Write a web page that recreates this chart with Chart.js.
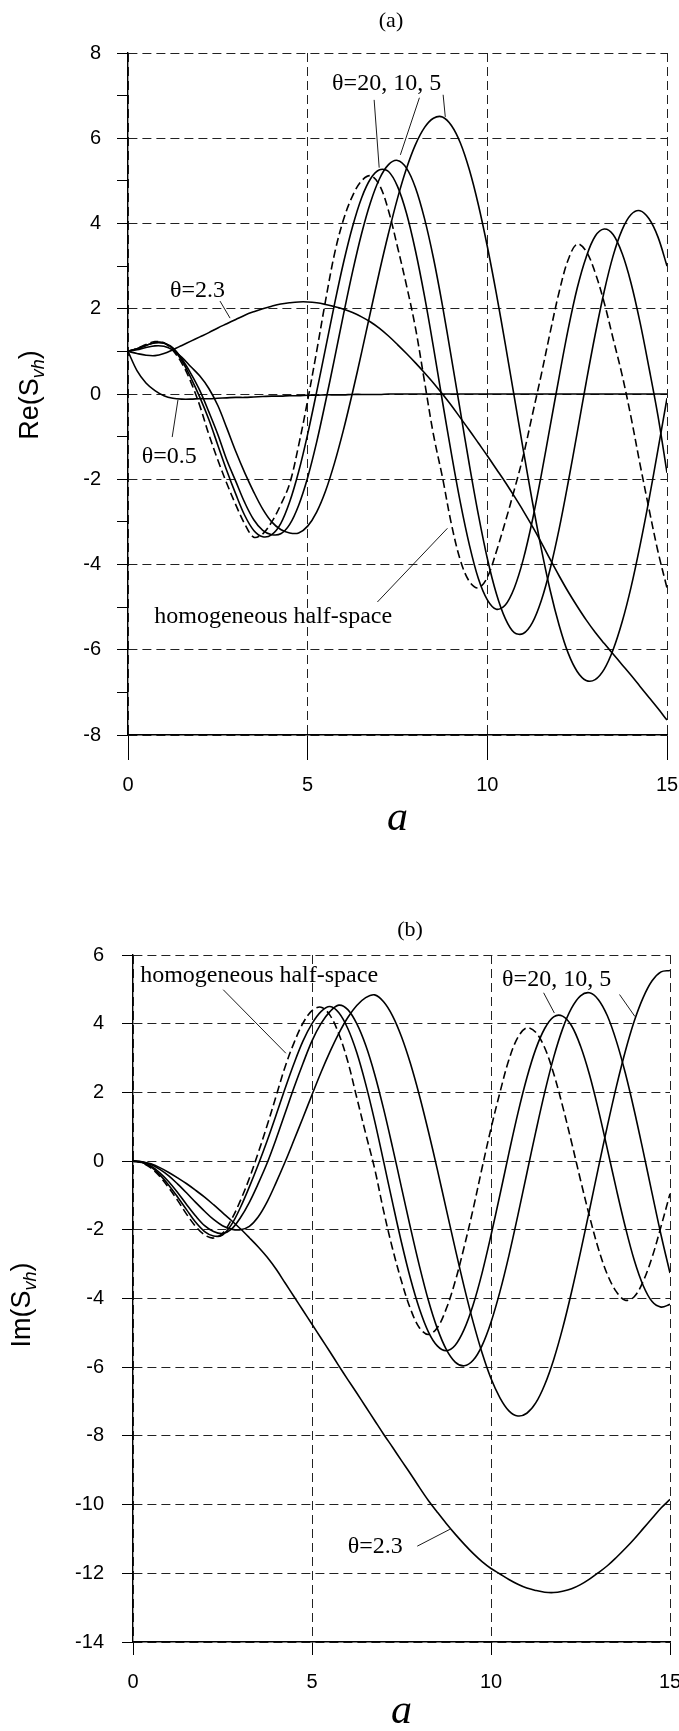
<!DOCTYPE html>
<html>
<head>
<meta charset="utf-8">
<script src="https://cdn.jsdelivr.net/npm/chart.js@4"></script>
<style>
html, body { margin: 0; padding: 0; background: #fff; }
#wrap { position: relative; width: 679px; height: 1731px; }
canvas { position: absolute; left: 0; }
</style>
</head>
<body>
<div id="wrap">
  <canvas id="reChart" width="679" height="860" style="top:0"></canvas>
  <canvas id="imChart" width="679" height="871" style="top:860px"></canvas>
</div>
<script>
// dimensionless frequency a
const aValues = [0,0.25,0.5,0.75,1,1.25,1.5,1.75,2,2.25,2.5,2.75,3,3.25,3.5,3.75,4,4.25,4.5,4.75,
  5,5.25,5.5,5.75,6,6.25,6.5,6.75,7,7.25,7.5,7.75,8,8.25,8.5,8.75,9,9.25,9.5,9.75,
  10,10.25,10.5,10.75,11,11.25,11.5,11.75,12,12.25,12.5,12.75,13,13.25,13.5,13.75,14,14.25,14.5,14.75,15];

// (a) Re(Svh)
const reHomog = [1.00,1.07,1.16,1.23,1.20,1.02,0.72,0.28,-0.28,-0.95,
  -1.55,-2.10,-2.60,-3.05,-3.36,-3.28,-3.00,-2.60,-2.10,-1.20,
  -0.15,1.00,2.20,3.30,4.10,4.65,5.00,5.12,4.90,4.30,
  3.45,2.55,1.55,0.30,-0.95,-1.95,-3.05,-3.90,-4.40,-4.55,
  -4.30,-3.70,-3.00,-2.25,-1.45,-0.50,0.45,1.45,2.40,3.15,
  3.52,3.35,2.85,2.15,1.30,0.45,-0.55,-1.65,-2.70,-3.70,-4.55];
const reTheta20 = [1.00,1.06,1.14,1.21,1.20,1.06,0.78,0.38,-0.08,-0.60,
  -1.20,-1.80,-2.35,-2.85,-3.20,-3.35,-3.30,-3.04,-2.53,-1.82,
  -0.94,0.05,1.08,2.12,3.09,3.93,4.60,5.05,5.26,5.22,
  4.87,4.24,3.36,2.30,1.10,-0.17,-1.40,-2.55,-3.54,-4.33,
  -4.83,-5.05,-4.95,-4.55,-3.88,-2.98,-1.91,-0.75,0.41,1.52,
  2.48,3.21,3.70,3.87,3.74,3.30,2.60,1.68,0.61,-0.52,-1.85];
const reTheta10 = [1.00,1.06,1.14,1.20,1.19,1.08,0.82,0.48,0.08,-0.42,
  -0.95,-1.55,-2.05,-2.55,-2.95,-3.20,-3.30,-3.28,-3.06,-2.61,
  -1.96,-1.13,-0.17,0.84,1.88,2.87,3.76,4.50,5.05,5.38,
  5.48,5.30,4.84,4.12,3.19,2.08,0.85,-0.41,-1.66,-2.83,
  -3.86,-4.68,-5.27,-5.60,-5.62,-5.37,-4.85,-4.10,-3.16,-2.07,
  -0.91,0.27,1.39,2.40,3.24,3.85,4.21,4.30,4.11,3.68,3.00];
const reTheta5 = [1.00,1.04,1.09,1.13,1.12,1.03,0.86,0.64,0.42,0.13,
  -0.27,-0.80,-1.35,-1.85,-2.30,-2.70,-3.00,-3.18,-3.26,-3.26,
  -3.10,-2.77,-2.27,-1.61,-0.83,0.04,0.97,1.93,2.88,3.77,
  4.59,5.29,5.85,6.25,6.47,6.50,6.30,5.89,5.26,4.44,
  3.46,2.36,1.17,-0.07,-1.31,-2.51,-3.62,-4.61,-5.43,-6.08,
  -6.51,-6.72,-6.70,-6.46,-6.00,-5.35,-4.53,-3.55,-2.47,-1.30,-0.10];
const reTheta23 = [1.00,0.95,0.91,0.90,0.95,1.04,1.14,1.24,1.34,1.44,
  1.55,1.65,1.75,1.85,1.93,2.00,2.06,2.11,2.14,2.16,
  2.16,2.14,2.10,2.05,1.99,1.91,1.81,1.69,1.54,1.36,
  1.16,0.95,0.73,0.50,0.26,0.00,-0.27,-0.56,-0.85,-1.15,
  -1.45,-1.76,-2.07,-2.40,-2.74,-3.10,-3.48,-3.88,-4.27,-4.64,
  -4.98,-5.30,-5.59,-5.85,-6.10,-6.35,-6.60,-6.86,-7.12,-7.38,-7.65];
const reTheta05 = [1.00,0.55,0.26,0.08,-0.04,-0.10,-0.12,-0.12,-0.11,-0.11,
  -0.10,-0.09,-0.08,-0.08,-0.07,-0.06,-0.05,-0.05,-0.04,-0.04,
  -0.03,-0.03,-0.02,-0.02,-0.02,-0.01,-0.01,-0.01,-0.01,0,
  0,0,0,0,0,0,0,0,0,0,
  0,0,0,0,0,0,0,0,0,0,
  0,0,0,0,0,0,0,0,0,0,0];

// (b) Im(Svh)
const imHomog = [0,-0.05,-0.20,-0.45,-0.78,-1.15,-1.55,-1.90,-2.15,-2.24,
  -2.10,-1.70,-1.15,-0.50,0.25,1.05,1.90,2.75,3.45,4.02,
  4.38,4.48,4.25,3.70,2.90,1.85,0.80,-0.22,-1.45,-2.55,
  -3.50,-4.30,-4.85,-5.05,-4.85,-4.30,-3.50,-2.50,-1.40,-0.20,
  0.95,2.00,2.95,3.60,3.88,3.75,3.30,2.55,1.60,0.55,
  -0.55,-1.60,-2.55,-3.30,-3.80,-4.05,-3.95,-3.50,-2.80,-1.90,-0.95];
const imTheta20 = [0,-0.04,-0.17,-0.40,-0.70,-1.05,-1.42,-1.78,-2.05,-2.18,
  -2.15,-1.85,-1.35,-0.75,-0.10,0.60,1.35,2.12,2.85,3.50,
  4.00,4.35,4.50,4.32,3.86,3.16,2.24,1.17,-0.01,-1.21,
  -2.37,-3.42,-4.30,-4.97,-5.38,-5.52,-5.36,-4.90,-4.19,-3.26,
  -2.16,-0.98,0.23,1.39,2.42,3.26,3.86,4.20,4.22,3.94,
  3.35,2.52,1.49,0.35,-0.81,-1.91,-2.88,-3.62,-4.09,-4.25,-4.17];
const imTheta10 = [0,-0.03,-0.14,-0.34,-0.60,-0.92,-1.27,-1.60,-1.88,-2.05,
  -2.11,-1.98,-1.65,-1.20,-0.65,-0.05,0.65,1.40,2.15,2.85,
  3.50,4.00,4.35,4.54,4.41,4.00,3.37,2.53,1.52,0.40,
  -0.77,-1.94,-3.05,-4.05,-4.87,-5.48,-5.85,-5.96,-5.80,-5.37,
  -4.69,-3.80,-2.75,-1.58,-0.36,0.85,2.00,3.02,3.85,4.45,
  4.81,4.90,4.70,4.23,3.50,2.57,1.48,0.29,-0.94,-2.15,-3.26];
const imTheta5 = [0,-0.02,-0.10,-0.24,-0.43,-0.67,-0.93,-1.20,-1.46,-1.70,
  -1.88,-1.98,-2.00,-1.90,-1.62,-1.18,-0.62,-0.02,0.62,1.27,
  1.93,2.58,3.18,3.72,4.18,4.53,4.76,4.84,4.64,4.23,
  3.62,2.84,1.91,0.87,-0.24,-1.40,-2.55,-3.66,-4.68,-5.58,
  -6.33,-6.89,-7.27,-7.42,-7.34,-7.04,-6.51,-5.78,-4.87,-3.81,
  -2.65,-1.43,-0.19,1.02,2.16,3.19,4.07,4.76,5.25,5.51,5.55];
const imTheta23 = [0,-0.02,-0.08,-0.19,-0.33,-0.49,-0.66,-0.85,-1.05,-1.27,
  -1.50,-1.73,-1.97,-2.23,-2.50,-2.80,-3.15,-3.55,-3.95,-4.35,
  -4.75,-5.15,-5.55,-5.96,-6.36,-6.75,-7.15,-7.55,-7.95,-8.33,
  -8.72,-9.10,-9.50,-9.88,-10.22,-10.55,-10.86,-11.15,-11.42,-11.66,
  -11.86,-12.02,-12.18,-12.32,-12.43,-12.50,-12.55,-12.56,-12.52,-12.45,
  -12.33,-12.17,-11.98,-11.78,-11.54,-11.28,-11.00,-10.70,-10.40,-10.10,-9.85];

const xTicks = [0, 5, 10, 15];

const INK = '#000';
const GRID = '#222';
const SANS = '"Liberation Sans", Arial, sans-serif';
const SERIF = '"Liberation Serif", "Times New Roman", serif';

// texts and leader lines, in data units (a, value)
const extras = {
  reChart: {
    panel: '(a)', panelX: 391, panelY: 27,
    xTitleY: 830,
    yPrefix: 'Re', yTitleX: 38, yTitleY: 395,
    labels: [
      { text: 'θ=20, 10, 5', a: 5.68, v: 7.14 },
      { text: 'θ=2.3', a: 1.17, v: 2.28 },
      { text: 'θ=0.5', a: 0.38, v: -1.62 },
      { text: 'homogeneous half-space', a: 0.73, v: -5.37 }
    ],
    leaders: [
      [6.85, 6.9, 6.99, 5.31],
      [8.11, 6.95, 7.58, 5.61],
      [8.77, 7.02, 8.83, 6.5],
      [2.56, 2.18, 2.84, 1.78],
      [1.23, -1.01, 1.39, -0.14],
      [6.94, -4.88, 8.89, -3.15]
    ]
  },
  imChart: {
    panel: '(b)', panelX: 410, panelY: 76,
    xTitleY: 863,
    yPrefix: 'Im', yTitleX: 30, yTitleY: 445,
    labels: [
      { text: 'homogeneous half-space', a: 0.2, v: 5.2 },
      { text: 'θ=20, 10, 5', a: 10.31, v: 5.1 },
      { text: 'θ=2.3', a: 6.0, v: -11.41 }
    ],
    leaders: [
      [2.52, 4.99, 4.27, 3.14],
      [11.47, 4.9, 11.77, 4.31],
      [13.59, 4.85, 14.02, 4.21],
      [7.94, -11.21, 8.85, -10.72]
    ]
  }
};

function drawYTitle(ctx, prefix, x, cy) {
  const big = '27px ' + SANS;
  const small = 'italic 18px ' + SANS;
  ctx.save();
  ctx.translate(x, cy);
  ctx.rotate(-Math.PI / 2);
  ctx.textAlign = 'left';
  ctx.textBaseline = 'alphabetic';
  ctx.font = big;
  const w1 = ctx.measureText(prefix + '(S').width;
  const w3 = ctx.measureText(')').width;
  ctx.font = small;
  const w2 = ctx.measureText('vh').width;
  let px = -(w1 + w2 + w3) / 2;
  ctx.font = big;
  ctx.fillText(prefix + '(S', px, 0);
  px += w1;
  ctx.font = small;
  ctx.fillText('vh', px, 6);
  px += w2;
  ctx.font = big;
  ctx.fillText(')', px, 0);
  ctx.restore();
}

const figText = {
  id: 'figText',
  afterDraw(chart) {
    const cfg = extras[chart.canvas.id];
    const ctx = chart.ctx;
    const xs = chart.scales.x, ys = chart.scales.y;
    const area = chart.chartArea;
    ctx.save();
    ctx.fillStyle = INK;
    ctx.strokeStyle = INK;
    ctx.textBaseline = 'alphabetic';

    ctx.font = '22px ' + SERIF;
    ctx.textAlign = 'center';
    ctx.fillText(cfg.panel, cfg.panelX, cfg.panelY);

    ctx.font = 'italic 42px ' + SERIF;
    ctx.fillText('a', (area.left + area.right) / 2, cfg.xTitleY);

    drawYTitle(ctx, cfg.yPrefix, cfg.yTitleX, cfg.yTitleY);

    ctx.font = '24px ' + SERIF;
    ctx.textAlign = 'left';
    cfg.labels.forEach(l => {
      ctx.fillText(l.text, xs.getPixelForValue(l.a), ys.getPixelForValue(l.v));
    });

    ctx.lineWidth = 0.9;
    cfg.leaders.forEach(([a1, v1, a2, v2]) => {
      ctx.beginPath();
      ctx.moveTo(xs.getPixelForValue(a1), ys.getPixelForValue(v1));
      ctx.lineTo(xs.getPixelForValue(a2), ys.getPixelForValue(v2));
      ctx.stroke();
    });
    ctx.restore();
  }
};

function series(label, ys, dashed) {
  return {
    label: label,
    data: aValues.map((a, i) => ({ x: a, y: ys[i] })),
    borderColor: INK,
    borderWidth: 1.6,
    borderDash: dashed ? [8, 4] : [],
    pointRadius: 0,
    tension: 0.35,
    fill: false
  };
}

function makeChart(id, datasets, o) {
  return new Chart(document.getElementById(id), {
    type: 'line',
    data: { datasets: datasets },
    options: {
      responsive: false,
      animation: false,
      events: [],
      layout: { padding: { top: o.top, right: o.right, left: 0, bottom: 0 } },
      plugins: { legend: { display: false }, tooltip: { enabled: false }, title: { display: false } },
      scales: {
        x: {
          type: 'linear',
          min: 0, max: 15,
          afterBuildTicks: s => { s.ticks = xTicks.map(v => ({ value: v })); },
          ticks: { font: { family: SANS, size: 20 }, color: INK, padding: o.xPad, maxRotation: 0 },
          grid: { color: GRID, lineWidth: 1, tickLength: o.xTick, tickColor: INK },
          border: { display: true, color: INK, width: 1.4, dash: [9, 5] },
          afterFit: s => { s.height = o.xHeight; s.paddingLeft = 0; s.paddingRight = 0; }
        },
        y: {
          type: 'linear',
          min: o.yMin, max: o.yMax,
          ticks: {
            stepSize: o.yStep,
            font: { family: SANS, size: 20 }, color: INK, padding: o.yPad,
            callback: v => (v % 2 === 0 ? v : '')
          },
          grid: {
            color: c => (c.tick && c.tick.value % 2 !== 0) ? 'rgba(0,0,0,0)' : GRID,
            lineWidth: 1, tickLength: 11, tickColor: INK
          },
          border: { display: true, color: INK, width: 1.4, dash: [9, 5] },
          afterFit: s => { s.width = o.yWidth; s.paddingTop = 0; s.paddingBottom = 0; }
        }
      }
    },
    plugins: [figText]
  });
}

makeChart('reChart', [
  series('homogeneous half-space', reHomog, true),
  series('θ=20', reTheta20, false),
  series('θ=10', reTheta10, false),
  series('θ=5', reTheta5, false),
  series('θ=2.3', reTheta23, false),
  series('θ=0.5', reTheta05, false)
], { top: 53, right: 12, xHeight: 125, xTick: 25, xPad: 13, yWidth: 128, yPad: 16, yMin: -8, yMax: 8, yStep: 1 });

makeChart('imChart', [
  series('homogeneous half-space', imHomog, true),
  series('θ=20', imTheta20, false),
  series('θ=10', imTheta10, false),
  series('θ=5', imTheta5, false),
  series('θ=2.3', imTheta23, false)
], { top: 95, right: 9, xHeight: 89, xTick: 13, xPad: 15, yWidth: 133, yPad: 18, yMin: -14, yMax: 6, yStep: 2 });
</script>
</body>
</html>
